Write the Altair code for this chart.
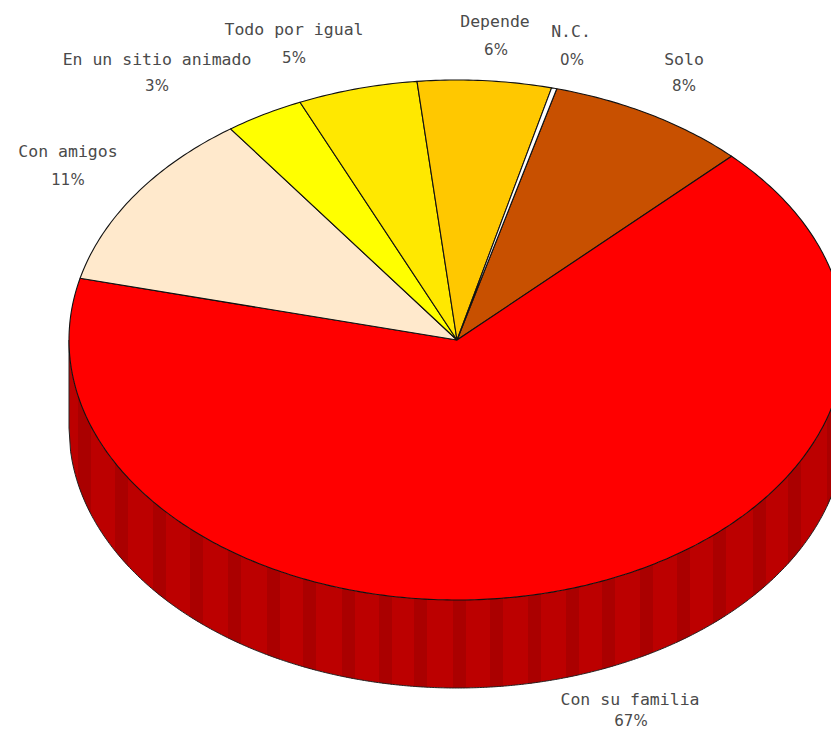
import numpy as np
import pandas as pd
import altair as alt

# Pie values (shares)
categories = ["Solo", "Con su familia", "Con amigos", "En un sitio animado",
              "Todo por igual", "Depende", "N.C."]
shares = [8.4, 66.5, 11.3, 3.3, 5.0, 5.58, 0.22]
percent_labels = ["8%", "67%", "11%", "3%", "5%", "6%", "0%"]
colors = ["#c85000", "#ff0000", "#ffe9cc", "#ffff00", "#ffe800", "#ffc800", "#ffffff"]

# Layout, in picture pixels
name_x = [684, 630, 68, 157, 294, 495, 571]
name_y = [60, 700, 152, 60, 30, 22, 32]
pct_x = [684, 631, 68, 157, 294, 496, 572]
pct_y = [86, 721, 180, 86, 58, 50, 60]
cx, cy, rx, ry, depth = 457.0, 340.0, 388.0, 260.0, 88.0
start_angle = 14.9
stripe_starts = [78, 115, 153, 190, 228, 267, 303, 342, 379, 414, 453, 490, 528,
                 566, 602, 640, 677, 713, 753, 788, 827]
stripe_width = 13

# Top-face slices
rows = []
angle = start_angle
total = sum(shares)
for cat, s in zip(categories, shares):
    sweep = s / total * 360.0
    n = max(3, int(sweep * 1.5))
    a = np.radians(np.linspace(angle, angle + sweep, n))
    xs = [cx] + list(cx + rx * np.sin(a)) + [cx]
    ys = [cy] + list(cy - ry * np.cos(a)) + [cy]
    for i, (x, y) in enumerate(zip(xs, ys)):
        rows.append({"slice": cat, "i": i, "x": x, "y": y})
    angle += sweep
top = pd.DataFrame(rows)


def wall_frame(x0, x1, n, group):
    xs = np.linspace(x0, x1, n)
    u = np.clip((xs - cx) / rx, -1, 1)
    upper = cy + ry * np.sqrt(1 - u ** 2)
    return pd.DataFrame({"x": xs, "y": upper, "y2": upper + depth, "g": group})


wall = wall_frame(cx - rx, cx + rx, 500, 0)
stripes = pd.concat([wall_frame(s, s + stripe_width, 8, s) for s in stripe_starts])
edge = pd.DataFrame({
    "x": [cx - rx] + list(wall["x"]) + [cx + rx],
    "y": [cy] + list(wall["y2"]) + [cy],
})
edge["i"] = range(len(edge))

X = alt.Scale(domain=[8, 831], range=[0, 823], nice=False, zero=False)
Y = alt.Scale(domain=[730, 8], range=[722, 0], nice=False, zero=False)
xe = alt.X("x:Q", scale=X, axis=None)
ye = alt.Y("y:Q", scale=Y, axis=None)

wall_layer = alt.Chart(wall).mark_area(color="#bc0000", opacity=1, clip=True).encode(
    x=xe, y=ye, y2="y2:Q"
)

stripe_layer = alt.Chart(stripes).mark_area(color="#aa0000", opacity=1, clip=True).encode(
    x=xe, y=ye, y2="y2:Q", detail="g:N"
)

edge_layer = alt.Chart(edge).mark_line(color="#222222", strokeWidth=1, clip=True).encode(
    x=xe, y=ye, order="i:Q"
)

top_layer = alt.Chart(top).mark_line(
    filled=True, stroke="#111111", strokeWidth=1.1, strokeJoin="round", clip=True
).encode(
    x=xe,
    y=ye,
    fill=alt.Fill("slice:N", scale=alt.Scale(domain=categories, range=colors), legend=None),
    detail="slice:N",
    order="i:Q",
)

labels = pd.DataFrame({"t": categories, "x": name_x, "y": name_y})
pcts = pd.DataFrame({"t": percent_labels, "x": pct_x, "y": pct_y})


def text_layer(df, font, size):
    return alt.Chart(df).mark_text(
        font=font, fontSize=size, color="#4a4a4a", align="center", baseline="middle"
    ).encode(x=xe, y=ye, text="t:N")


chart = alt.layer(
    wall_layer, stripe_layer, edge_layer, top_layer,
    text_layer(labels, "DejaVu Sans Mono", 16.5), text_layer(pcts, "DejaVu Sans", 15)
).properties(
    width=823, height=722, padding=0, autosize=alt.AutoSizeParams(type="none")
).configure_view(stroke=None)

chart.save("out.html", embed_options={"renderer": "svg", "actions": False})
